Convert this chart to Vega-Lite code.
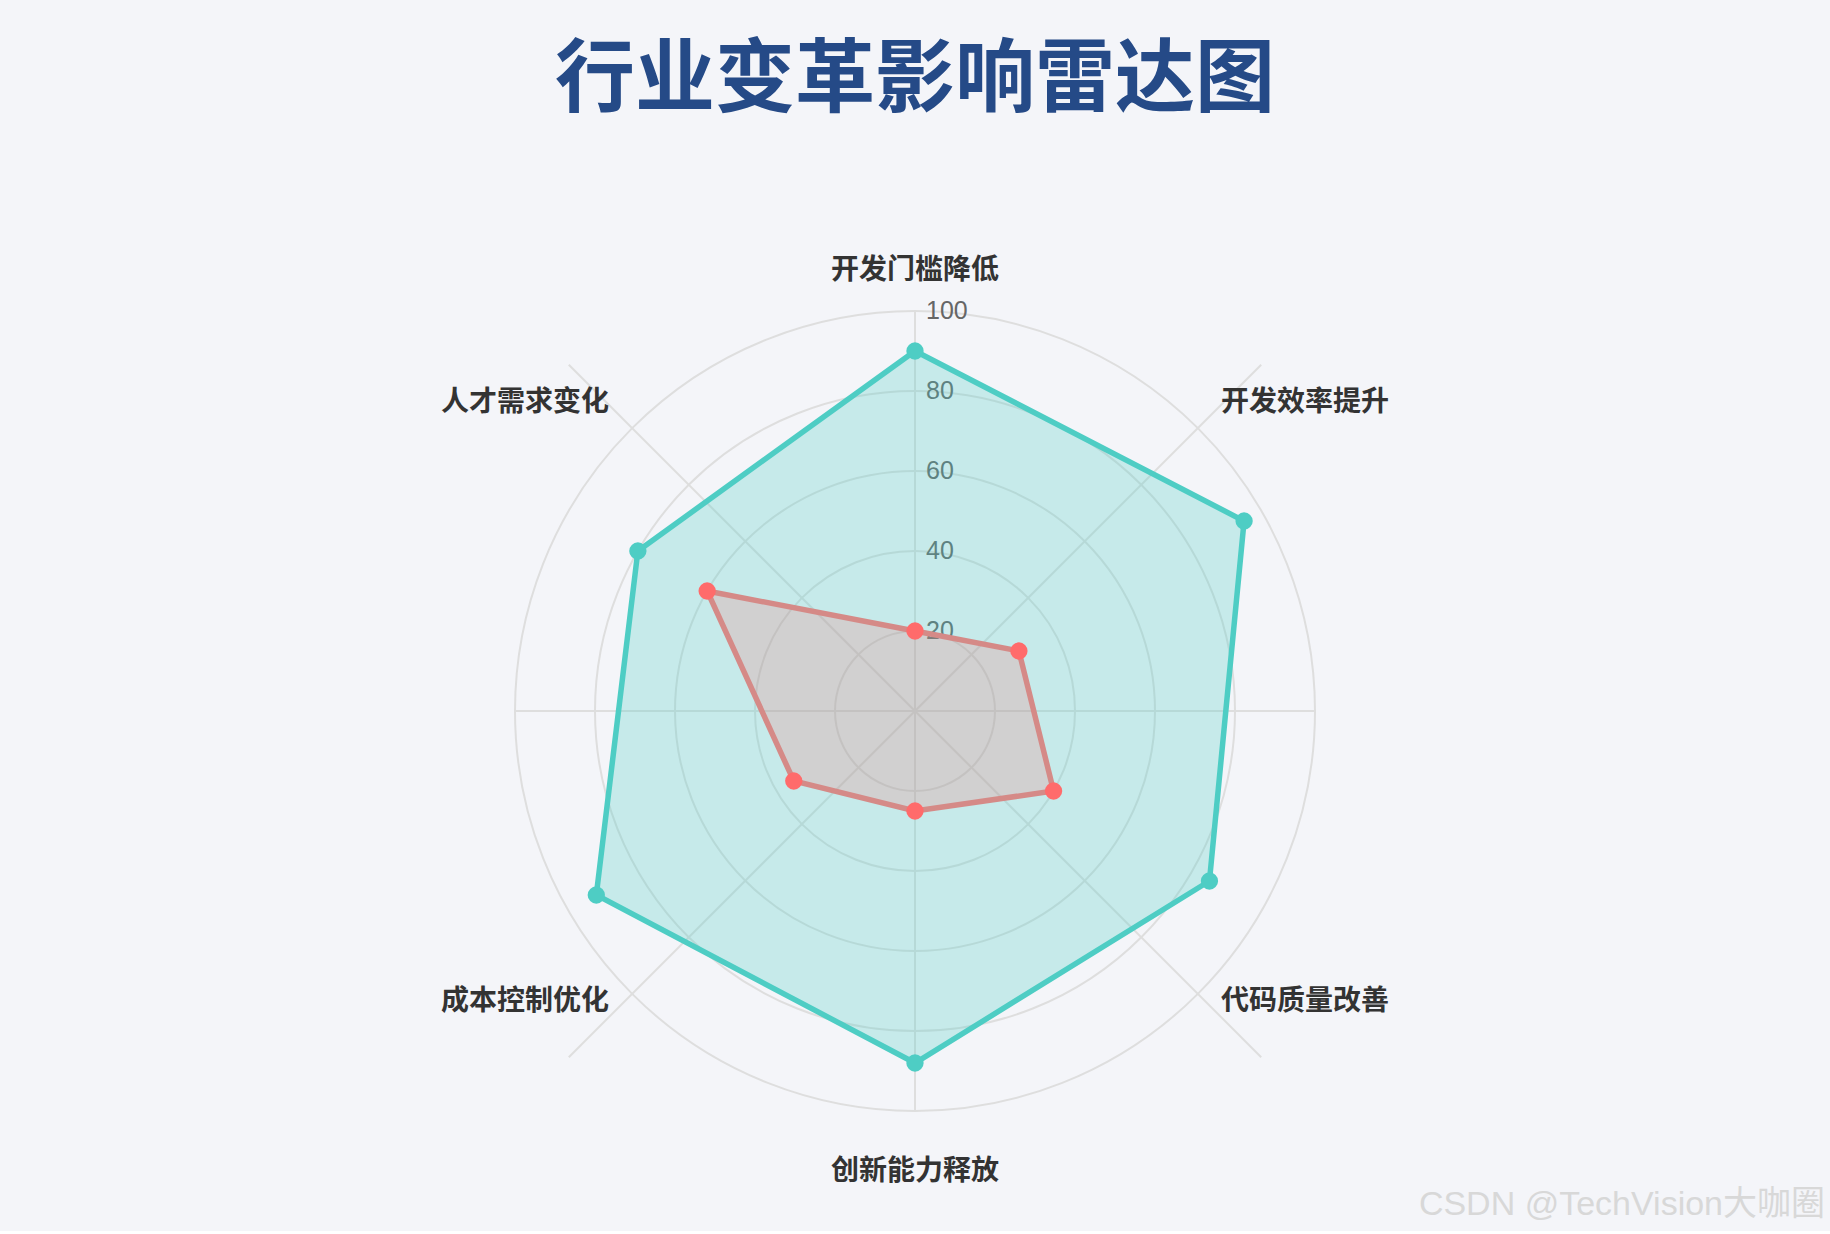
{
  "$schema": "https://vega.github.io/schema/vega-lite/v6.json",
  "autosize": {"type": "none"},
  "width": 1830,
  "height": 1040,
  "padding": {"left": 0, "right": 0, "top": 191, "bottom": 0},
  "background": "#f4f5f9",
  "title": {
    "text": "行业变革影响雷达图",
    "font": "Noto Sans CJK SC",
    "fontSize": 80,
    "fontWeight": "bold",
    "color": "#254a87",
    "anchor": "middle",
    "frame": "group",
    "baseline": "middle",
    "offset": 30
  },
  "config": {"view": {"stroke": null}},
  "datasets": {
    "scores": [
      {"series": "AI赋能", "idx": 0, "dim": "开发门槛降低", "value": 90},
      {"series": "AI赋能", "idx": 1, "dim": "开发效率提升", "value": 95},
      {"series": "AI赋能", "idx": 2, "dim": "代码质量改善", "value": 85},
      {"series": "AI赋能", "idx": 3, "dim": "创新能力释放", "value": 88},
      {"series": "AI赋能", "idx": 4, "dim": "成本控制优化", "value": 92},
      {"series": "AI赋能", "idx": 5, "dim": "人才需求变化", "value": 80},
      {"series": "传统", "idx": 0, "dim": "开发门槛降低", "value": 20},
      {"series": "传统", "idx": 1, "dim": "开发效率提升", "value": 30},
      {"series": "传统", "idx": 2, "dim": "代码质量改善", "value": 40},
      {"series": "传统", "idx": 3, "dim": "创新能力释放", "value": 25},
      {"series": "传统", "idx": 4, "dim": "成本控制优化", "value": 35},
      {"series": "传统", "idx": 5, "dim": "人才需求变化", "value": 60}
    ],
    "rings": [{"r": 20}, {"r": 40}, {"r": 60}, {"r": 80}, {"r": 100}],
    "spokes": [{"k": 0}, {"k": 1}, {"k": 2}, {"k": 3}, {"k": 4}, {"k": 5}, {"k": 6}, {"k": 7}],
    "dims": [
      {"idx": 0, "dim": "开发门槛降低"},
      {"idx": 1, "dim": "开发效率提升"},
      {"idx": 2, "dim": "代码质量改善"},
      {"idx": 3, "dim": "创新能力释放"},
      {"idx": 4, "dim": "成本控制优化"},
      {"idx": 5, "dim": "人才需求变化"}
    ]
  },
  "layer": [
    {
      "data": {"name": "rings"},
      "mark": {"type": "arc", "filled": false, "stroke": "#dedede", "strokeWidth": 2, "theta": 0, "theta2": 6.2832},
      "encoding": {
        "radius": {"field": "r", "type": "quantitative", "stack": null, "scale": {"type": "linear", "domain": [0, 100], "range": [0, 400], "zero": true}}
      }
    },
    {
      "data": {"name": "spokes"},
      "transform": [
        {"calculate": "datum.k * PI / 4", "as": "a"},
        {"calculate": "datum.k % 2 == 0 ? 100 : 122.4", "as": "len"},
        {"calculate": "0", "as": "x0"},
        {"calculate": "0", "as": "y0"},
        {"calculate": "datum.len * sin(datum.a)", "as": "x1"},
        {"calculate": "datum.len * cos(datum.a)", "as": "y1"}
      ],
      "mark": {"type": "rule", "stroke": "#dedede", "strokeWidth": 2},
      "encoding": {
        "x": {"field": "x0", "type": "quantitative", "scale": {"domain": [-228.75, 228.75], "nice": false, "zero": false}, "axis": null},
        "y": {"field": "y0", "type": "quantitative", "scale": {"domain": [-130, 130], "nice": false, "zero": false}, "axis": null},
        "x2": {"field": "x1"},
        "y2": {"field": "y1"}
      }
    },
    {
      "data": {"name": "rings"},
      "transform": [{"calculate": "0", "as": "x0"}],
      "mark": {"type": "text", "align": "left", "baseline": "middle", "dx": 11, "font": "Liberation Sans", "fontSize": 25, "color": "#666666"},
      "encoding": {
        "x": {"field": "x0", "type": "quantitative"},
        "y": {"field": "r", "type": "quantitative"},
        "text": {"field": "r", "type": "quantitative"}
      }
    },
    {
      "data": {"name": "scores"},
      "transform": [
        {"filter": "datum.series == 'AI赋能'"},
        {"calculate": "datum.idx * PI / 3", "as": "a"},
        {"calculate": "datum.value * sin(datum.a)", "as": "px"},
        {"calculate": "datum.value * cos(datum.a)", "as": "py"}
      ],
      "mark": {"type": "line", "interpolate": "linear-closed", "fill": "#4ecdc4", "fillOpacity": 0.28, "stroke": "#4ecdc4", "strokeWidth": 5.5},
      "encoding": {
        "x": {"field": "px", "type": "quantitative"},
        "y": {"field": "py", "type": "quantitative"},
        "order": {"field": "idx"}
      }
    },
    {
      "data": {"name": "scores"},
      "transform": [
        {"filter": "datum.series == '传统'"},
        {"calculate": "datum.idx * PI / 3", "as": "a"},
        {"calculate": "datum.value * sin(datum.a)", "as": "px"},
        {"calculate": "datum.value * cos(datum.a)", "as": "py"}
      ],
      "mark": {"type": "line", "interpolate": "linear-closed", "fill": "#ff6b6b", "fillOpacity": 0.2, "stroke": "#d58a87", "strokeWidth": 5.5},
      "encoding": {
        "x": {"field": "px", "type": "quantitative"},
        "y": {"field": "py", "type": "quantitative"},
        "order": {"field": "idx"}
      }
    },
    {
      "data": {"name": "scores"},
      "transform": [
        {"calculate": "datum.idx * PI / 3", "as": "a"},
        {"calculate": "datum.value * sin(datum.a)", "as": "px"},
        {"calculate": "datum.value * cos(datum.a)", "as": "py"}
      ],
      "mark": {"type": "point", "shape": "circle", "filled": true, "opacity": 1, "size": 300},
      "encoding": {
        "x": {"field": "px", "type": "quantitative"},
        "y": {"field": "py", "type": "quantitative"},
        "color": {"field": "series", "type": "nominal", "scale": {"domain": ["AI赋能", "传统"], "range": ["#4ecdc4", "#ff6b6b"]}, "legend": null}
      }
    },
    {
      "data": {"name": "dims"},
      "transform": [
        {"calculate": "datum.idx * PI / 3", "as": "a"},
        {"calculate": "112.6 * sin(datum.a)", "as": "lx"},
        {"calculate": "abs(sin(datum.a)) < 0.1 ? (cos(datum.a) > 0 ? 110 : -115.3) : (cos(datum.a) > 0 ? 77 : -72.8)", "as": "ly"}
      ],
      "mark": {"type": "text", "align": "center", "baseline": "middle", "font": "Noto Sans CJK SC", "fontSize": 28, "fontWeight": "bold", "color": "#333333"},
      "encoding": {
        "x": {"field": "lx", "type": "quantitative"},
        "y": {"field": "ly", "type": "quantitative"},
        "text": {"field": "dim", "type": "nominal"}
      }
    },
    {
      "data": {"values": [{"note": "CSDN @TechVision大咖圈"}]},
      "mark": {"type": "text", "align": "right", "baseline": "middle", "font": "Liberation Sans, Noto Sans CJK SC", "fontSize": 34, "color": "#d8d8d8"},
      "encoding": {
        "x": {"datum": 227.5, "type": "quantitative"},
        "y": {"datum": -123.5, "type": "quantitative"},
        "text": {"field": "note", "type": "nominal"}
      }
    }
  ]
}
